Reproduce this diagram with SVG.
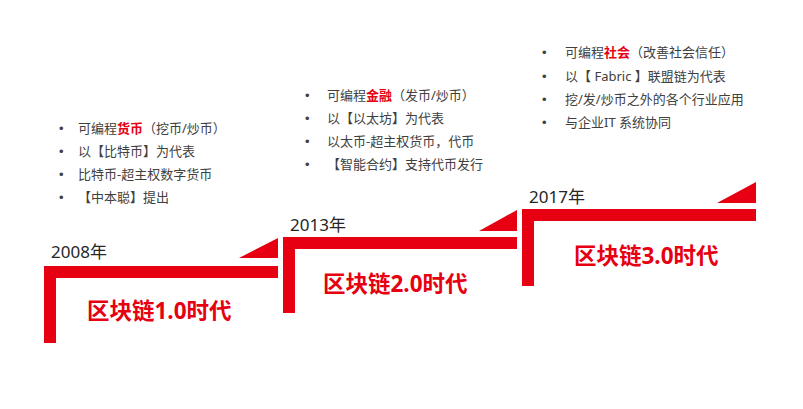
<svg xmlns="http://www.w3.org/2000/svg" width="803" height="409" viewBox="0 0 803 409">
<style>
.step{fill:#E60012}
.year{font-family:"Noto Sans","Noto Sans CJK SC",sans-serif;font-size:17px;fill:#262626}
.title{font-family:"Noto Sans","Noto Sans CJK SC",sans-serif;font-size:22.5px;font-weight:bold;fill:#E60012}
.item{font-family:"Noto Sans","Noto Sans CJK SC",sans-serif;font-size:13px;fill:#404040}
.dot{font-family:"Liberation Sans",sans-serif;font-size:13px;fill:#404040}
.hl{fill:#E60012;font-weight:bold}
</style>
<rect width="803" height="409" fill="#ffffff"/>
<g id="era1">
<path class="step" d="M44,266 H278 V278 H56 V343 H44 Z"/>
<polygon class="step" points="239,258 278,238 278,258"/>
<text class="year" x="51" y="258">2008年</text>
<text class="title" x="87" y="319">区块链1.0时代</text>
<text class="dot" x="59" y="133">•</text>
<text class="dot" x="59" y="156">•</text>
<text class="dot" x="59" y="179">•</text>
<text class="dot" x="59" y="202">•</text>
<text class="item" x="78" y="133">可编程<tspan class="hl">货币</tspan>（挖币/炒币）</text>
<text class="item" x="78" y="156">以【比特币】为代表</text>
<text class="item" x="78" y="179">比特币-超主权数字货币</text>
<text class="item" x="78" y="202">【中本聪】提出</text>
</g>
<g id="era2">
<path class="step" d="M283,237 H517 V249 H295 V313 H283 Z"/>
<polygon class="step" points="479,231 517,210 517,231"/>
<text class="year" x="290" y="231">2013年</text>
<text class="title" x="323" y="292">区块链2.0时代</text>
<text class="dot" x="305" y="100">•</text>
<text class="dot" x="305" y="123">•</text>
<text class="dot" x="305" y="146">•</text>
<text class="dot" x="305" y="169">•</text>
<text class="item" x="327" y="100">可编程<tspan class="hl">金融</tspan>（发币/炒币）</text>
<text class="item" x="327" y="123">以【以太坊】为代表</text>
<text class="item" x="327" y="146">以太币-超主权货币，代币</text>
<text class="item" x="327" y="169">【智能合约】支持代币发行</text>
</g>
<g id="era3">
<path class="step" d="M522,209 H756 V221 H534 V286 H522 Z"/>
<polygon class="step" points="717,203 756,182 756,203"/>
<text class="year" x="529" y="203">2017年</text>
<text class="title" x="574" y="264">区块链3.0时代</text>
<text class="dot" x="542" y="57">•</text>
<text class="dot" x="542" y="81">•</text>
<text class="dot" x="542" y="104">•</text>
<text class="dot" x="542" y="127">•</text>
<text class="item" x="565" y="57">可编程<tspan class="hl">社会</tspan>（改善社会信任）</text>
<text class="item" x="565" y="81">以【 Fabric 】联盟链为代表</text>
<text class="item" x="565" y="104">挖/发/炒币之外的各个行业应用</text>
<text class="item" x="565" y="127">与企业IT 系统协同</text>
</g>
<g id="connectors"/>
</svg>
